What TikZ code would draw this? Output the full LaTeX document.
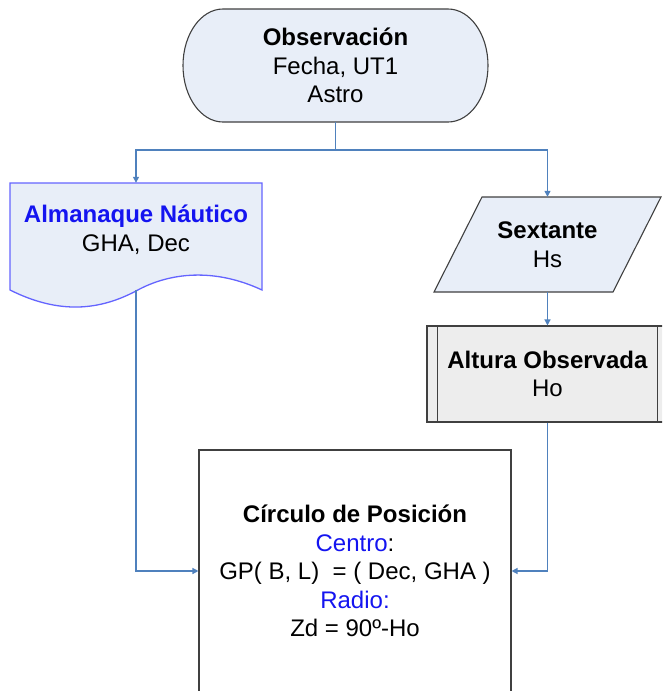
\documentclass[tikz,border=0pt]{standalone}
\usepackage{fontspec}
\setmainfont{Liberation Sans}
\usetikzlibrary{arrows.meta}
\definecolor{shapefill}{RGB}{232,238,248}
\definecolor{procfill}{RGB}{237,237,237}
\definecolor{edgegray}{RGB}{64,64,64}
\definecolor{linkblue}{RGB}{79,129,189}
\definecolor{docblue}{RGB}{100,100,255}
\definecolor{txtblue}{RGB}{20,20,240}
\tikzset{
  link/.style={draw=linkblue, line width=1.3pt, -{Triangle[length=6pt,width=6pt]}},
  linkplain/.style={draw=linkblue, line width=1.3pt},
  outline/.style={draw=edgegray, line width=1.1pt},
  txt/.style={align=center, inner sep=0pt},
}
\begin{document}
\begin{tikzpicture}[x=1pt,y=-1pt,font=\fontsize{24}{28.5}\selectfont]
\path[use as bounding box, clip] (0,0) rectangle (662,691);

% Observacion (terminal)
\draw[outline, fill=shapefill] (223,9) -- (448,9)
  arc[start angle=-90, end angle=90, x radius=40, y radius=56.5]
  -- (223,122)
  arc[start angle=90, end angle=270, x radius=40, y radius=56.5] -- cycle;
\node[txt, minimum width=305pt, minimum height=113pt] (obs) at (335.5,65.5)
  {\textbf{Observación}\\Fecha, UT1\\Astro};

% Almanaque (document)
\draw[draw=docblue, line width=1.3pt, fill=shapefill] (10,290) -- (10,183) -- (262,183) -- (262,290)
  .. controls (215,268) and (170,272) .. (136,291)
  .. controls (100,310) and (60,315) .. cycle;
\node[minimum width=252pt, minimum height=107pt, inner sep=0pt] (alm) at (136,236.5) {};
\node[txt] (almt) at (136,229.5) {\textcolor{txtblue}{\textbf{Almanaque Náutico}}\\GHA, Dec};

% Sextante (data)
\draw[outline, fill=shapefill] (482,197) -- (661,197) -- (613,292) -- (434,292) -- cycle;
\node[txt, minimum height=95pt] (sex) at (547.5,244.5) {\textbf{Sextante}\\Hs};

% Altura Observada (predefined process)
\node[txt, outline, fill=procfill, minimum width=241pt, minimum height=96pt] (alt) at (547.5,374)
  {\textbf{Altura Observada}\\Ho};
\draw[outline] ([xshift=11pt]alt.north west) -- ([xshift=11pt]alt.south west);
\draw[outline] ([xshift=-11pt]alt.north east) -- ([xshift=-11pt]alt.south east);

% Circulo de Posicion
\node[txt, outline, fill=white, minimum width=312pt, minimum height=242pt] (circ) at (355,571)
  {\textbf{Círculo de Posición}\\\textcolor{txtblue}{Centro}:\\GP( B, L)~ = ( Dec, GHA )\\\textcolor{txtblue}{Radio:}\\Zd = 90º-Ho};

% Connectors
\coordinate (split) at (335.5,150);
\draw[linkplain] (obs.south) -- (split);
\draw[link] (split) -| (alm.north);
\draw[link] (split) -| (sex.north);
\draw[link] (sex.south) -- (alt.north);
\draw[link] (alm.south) |- (circ.west);
\draw[link] (alt.south) |- (circ.east);
\end{tikzpicture}
\end{document}
